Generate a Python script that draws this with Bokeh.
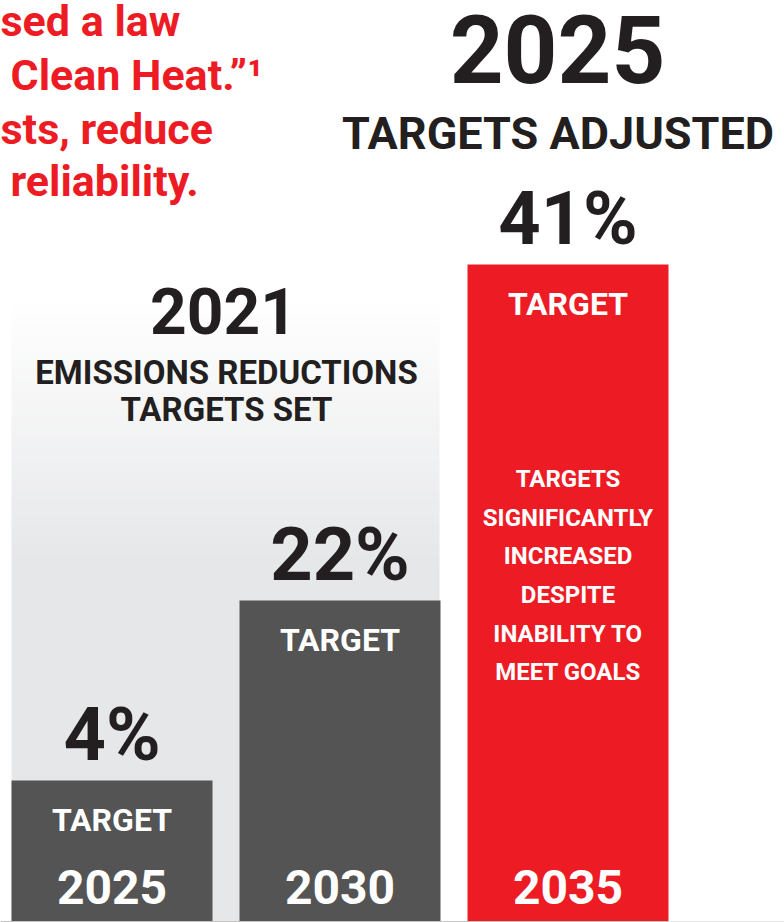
from bokeh.plotting import figure
from bokeh.models import Range1d
from bokeh.core.properties import value
from bokeh.embed import file_html
from bokeh.resources import INLINE

# ---------------- data ----------------
years = ["2025", "2030", "2035"]
target_pct = [4, 22, 41]
pct_labels = [f"{v}%" for v in target_pct]
bar_colors = ["#545454", "#545454", "#ed1c24"]
# stylised (non-proportional) bar heights used by the infographic, in px units
display_height = [140.5, 320.5, 656.5]

intro_lines = ["sed a law", "Clean Heat.”¹", "sts, reduce", "reliability."]
set_year = "2021"
set_lines = ["EMISSIONS REDUCTIONS", "TARGETS SET"]
adj_year = "2025"
adj_line = "TARGETS ADJUSTED"
bar_word = "TARGET"
red_note = ["TARGETS", "SIGNIFICANTLY", "INCREASED", "DESPITE", "INABILITY TO", "MEET GOALS"]

# ---------------- styling ----------------
FONT = value("Roboto")
RED = "#ed1c24"
BLACK = "#231f20"
BASE = 920.5
X0, PITCH, BW = 111.5, 228.0, 201.0
K = 0.39  # empirical baseline correction (fraction of font size)
centers = [X0 + i * PITCH for i in range(len(years))]

p = figure(width=784, height=922, x_range=Range1d(0, 784), y_range=Range1d(922, 0),
           output_backend="svg", toolbar_location=None, min_border=0,
           x_axis_location=None, y_axis_location=None,
           background_fill_color="white", border_fill_color="white", outline_line_color=None)
p.grid.visible = False

# gradient panel behind the 2021 bars
g_top, g_bot = 295.0, 565.0
n = 54
c0 = (255, 255, 255)
c1 = (230, 231, 233)
lefts, rights, tops, bots, cols = [], [], [], [], []
for i in range(n):
    t = i / (n - 1)
    y_a = g_top + (g_bot - g_top) * i / n
    y_b = g_top + (g_bot - g_top) * (i + 1) / n
    c = tuple(round(c0[k] + (c1[k] - c0[k]) * t) for k in range(3))
    lefts.append(11); rights.append(439); tops.append(y_a); bots.append(y_b + 0.6)
    cols.append("#%02x%02x%02x" % c)
lefts.append(11); rights.append(439); tops.append(g_bot); bots.append(BASE); cols.append("#e6e7e9")
p.quad(left=lefts, right=rights, top=tops, bottom=bots, fill_color=cols, line_color=None)

# bars
p.vbar(x=centers, width=BW, bottom=[BASE] * 3, top=[BASE - h for h in display_height],
       fill_color=bar_colors, line_color=None)

# bottom rule
p.segment(x0=[0, 668], y0=[921.5, 921.5], x1=[668, 784], y1=[921.5, 921.5],
          line_color=["#8a8a8a", "#d0d0d0"], line_width=1.2)


def txt(x, y, s, size, color, align="center"):
    p.text(x=x, y=[v - K * size for v in y], text=s, text_font=FONT, text_font_style="bold",
           text_font_size=f"{size}px", text_color=color, text_align=align,
           text_baseline="alphabetic")


# intro red text (cut at the left edge)
txt([0, 10, 0, 10], [37, 91, 145, 197], intro_lines, 43, RED, align="left")

# 2025 adjusted heading
txt([557], [85], [adj_year], 94, BLACK)
txt([557.5], [151], [adj_line], 45, BLACK)

# 2021 heading
txt([223], [335], [set_year], 64, BLACK)
txt([226, 226], [385, 422], set_lines, 33, BLACK)

# percentage labels above bars
pct_base = [BASE - h - 17 for h in display_height]
txt(centers, pct_base, pct_labels, 74, BLACK)

# TARGET inside bars
txt(centers, [BASE - h + 52 for h in display_height], [bar_word] * 3, 32, "white")

# year labels
txt(centers, [905] * 3, years, 48, "white")

# red bar note
txt([centers[2]] * len(red_note), [488 + 38.6 * i for i in range(len(red_note))],
    red_note, 24, "white")

html = file_html(p, INLINE)
open("out.html", "w").write(html)
